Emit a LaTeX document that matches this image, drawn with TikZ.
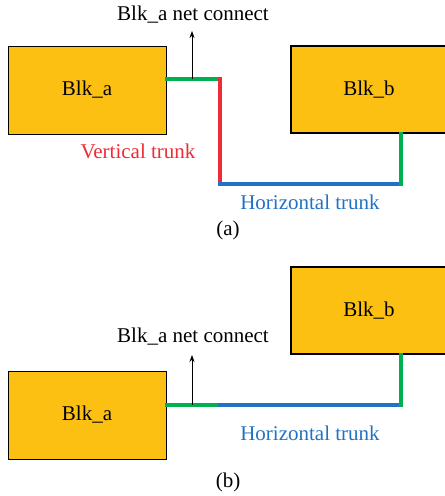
\documentclass[tikz,border=0pt]{standalone}
\usepackage{fontspec}
\setmainfont{Liberation Serif}
\usetikzlibrary{arrows.meta}
\definecolor{blkfill}{HTML}{FBC012}
\definecolor{wgreen}{HTML}{00B050}
\definecolor{wred}{HTML}{EE2B36}
\definecolor{wblue}{HTML}{2272C3}
\begin{document}
\begin{tikzpicture}[x=1pt,y=-1pt,
  blk/.style={fill=blkfill, draw=black, inner sep=0pt,
    font=\fontsize{21}{24}\selectfont},
  blka/.style={blk, line width=0.8pt, minimum width=158pt, minimum height=88pt},
  blkb/.style={blk, line width=1.5pt, minimum width=156pt, minimum height=87pt},
  lbl/.style={font=\fontsize{21}{24}\selectfont, inner sep=0pt},
  wire/.style={line width=3.2pt, line cap=rect},
  netarrow/.style={line width=0.8pt, -{Stealth[length=7pt,width=5pt]}}]
\useasboundingbox (0,0) rectangle (445,496);

% ---- (a): net routed with a vertical and a horizontal trunk ----
\node[blka] (a1) at (87,90) {Blk\_a};
\node[blkb] (b1) at (369,89.5) {Blk\_b};
\coordinate (j1) at (220,79);
\coordinate (t1) at (220,184);
\coordinate (u1) at (401,184);
\coordinate (n1) at (192,79);
\coordinate (tip1) at (192,31);
\draw[wire, wgreen] (a1.east |- j1) -- (j1);
\draw[wire, wred] (j1) -- (t1);
\draw[wire, wblue] (t1) -- (u1);
\draw[wire, wgreen] (u1) -- (u1 |- b1.south);
\draw[netarrow] (n1) -- (tip1);
\node[lbl] (c1) at (193,15) {Blk\_a net connect};
\node[lbl, text=wred] (vt1) at (138,151) {Vertical trunk};
\node[lbl, text=wblue] (ht1) at (310,202) {Horizontal trunk};
\node[lbl] (capa) at (228,230) {(a)};

% ---- (b): net routed with a horizontal trunk only ----
\node[blkb] (b2) at (369,310.5) {Blk\_b};
\node[blka] (a2) at (87,415) {Blk\_a};
\coordinate (j2) at (220,405);
\coordinate (u2) at (401,405);
\coordinate (n2) at (192,405);
\coordinate (tip2) at (192,355);
\draw[wire, wgreen] (a2.east |- j2) -- (j2);
\draw[wire, wblue] (j2) -- (u2);
\draw[wire, wgreen] (u2) -- (u2 |- b2.south);
\draw[netarrow] (n2) -- (tip2);
\node[lbl] (c2) at (193,337) {Blk\_a net connect};
\node[lbl, text=wblue] (ht2) at (310,433) {Horizontal trunk};
\node[lbl] (capb) at (228,482) {(b)};
\end{tikzpicture}
\end{document}
